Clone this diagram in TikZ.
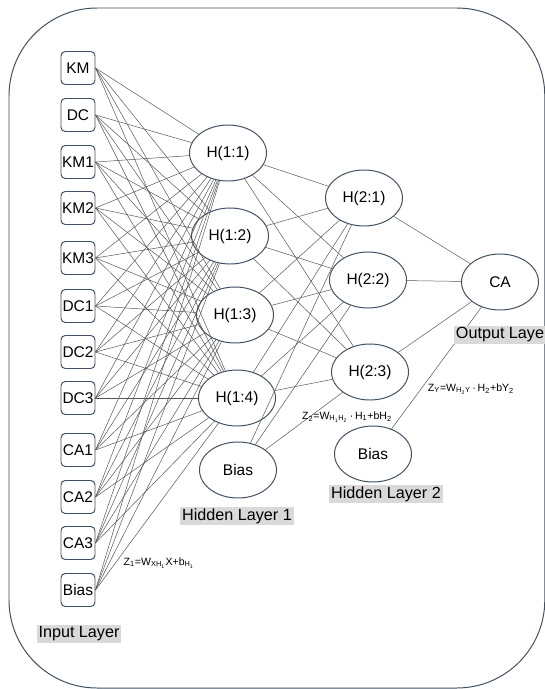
\documentclass[tikz,border=0pt]{standalone}
\usepackage{fontspec}
\setmainfont{Liberation Sans}
\usepackage{tikz}
\usetikzlibrary{shapes.geometric}
\definecolor{Slate}{RGB}{64,80,98}
\definecolor{LinkGray}{RGB}{85,85,85}
\definecolor{LabelGray}{RGB}{217,217,217}

\begin{document}
\begin{tikzpicture}[
  inputbox/.style={
    draw=Slate,
    rounded corners=3pt,
    minimum width=0.85cm,
    minimum height=0.825cm,
    inner sep=0pt,
    line width=0.7pt
  },
  neuron/.style={
    draw=Slate,
    ellipse,
    minimum width=1.925cm,
    minimum height=1.4cm,
    inner sep=0pt,
    line width=0.7pt
  },
  link/.style={draw=LinkGray, line width=0.35pt},
  frame/.style={draw=Slate, rounded corners=2.2cm, line width=0.7pt},
  layerlabel/.style={fill=LabelGray, inner sep=1.2pt, font=\fontsize{11.5}{13}\selectfont},
  eqlabel/.style={inner sep=1pt, font=\fontsize{7.5}{9}\selectfont},
  font=\fontsize{11}{13}\selectfont
]
\useasboundingbox (0,0) rectangle (13.625,-17.225);
\clip (0,0) rectangle (13.625,-17.225);
\draw[frame] (0.225,-0.2) rectangle (13.62,-17.2);

\def\XIn{1.95}
% input layer
\foreach \n/\t/\y in {km/KM/1.70, dc/DC/2.875, km1/KM1/4.05, km2/KM2/5.2,
    km3/KM3/6.45, dc1/DC1/7.65, dc2/DC2/8.8, dc3/DC3/9.95,
    ca1/CA1/11.25, ca2/CA2/12.425, ca3/CA3/13.575, bias0/Bias/14.75}
  \node[inputbox] (\n) at (\XIn,-\y) {\t};

% hidden layer 1
\node[neuron] (h11) at (5.7,-3.825) {H(1:1)};
\node[neuron] (h12) at (5.75,-5.9) {H(1:2)};
\node[neuron] (h13) at (5.875,-7.875) {H(1:3)};
\node[neuron] (h14) at (5.925,-9.95) {H(1:4)};
\node[neuron] (bias1) at (5.95,-11.75) {Bias};

% hidden layer 2
\node[neuron] (h21) at (9.1,-4.95) {H(2:1)};
\node[neuron] (h22) at (9.2,-7.0) {H(2:2)};
\node[neuron] (h23) at (9.25,-9.3) {H(2:3)};
\node[neuron] (bias2) at (9.325,-11.35) {Bias};

% output
\node[neuron] (ca) at (12.5,-7.05) {CA};

\foreach \i in {km,dc,km1,km2,km3,dc1,dc2,dc3,ca1,ca2,ca3,bias0}
  \foreach \h in {h11,h12,h13,h14}
    \draw[link] (\i.east) -- (\h);
\foreach \a in {h11,h12,h13,h14,bias1}
  \foreach \b in {h21,h22,h23}
    \draw[link] (\a) -- (\b);
\foreach \a in {h21,h22,h23,bias2}
  \draw[link] (\a) -- (ca);

\node[layerlabel] (inlabel) at (1.975,-15.85) {Input Layer};
\node[layerlabel] (h1label) at (5.925,-12.9) {Hidden Layer 1};
\node[layerlabel] (h2label) at (9.65,-12.35) {Hidden Layer 2};
\node[layerlabel,anchor=west] (outlabel) at (11.35,-8.375) {Output Laye};

\node[eqlabel] (eq1) at (3.975,-14.075)
  {Z\textsubscript{1}=W\textsubscript{XH\textsubscript{1}}X+b\textsubscript{H\textsubscript{1}}};
\node[eqlabel] (eq2) at (8.675,-10.425)
  {Z\textsubscript{2}=W\textsubscript{H\textsubscript{1}H\textsubscript{2}}\,·\,H\textsubscript{1}+bH\textsubscript{2}};
\node[eqlabel] (eq3) at (11.775,-9.725)
  {Z\textsubscript{Y}=W\textsubscript{H\textsubscript{2}Y}\,·\,H\textsubscript{2}+bY\textsubscript{2}};
\end{tikzpicture}
\end{document}
